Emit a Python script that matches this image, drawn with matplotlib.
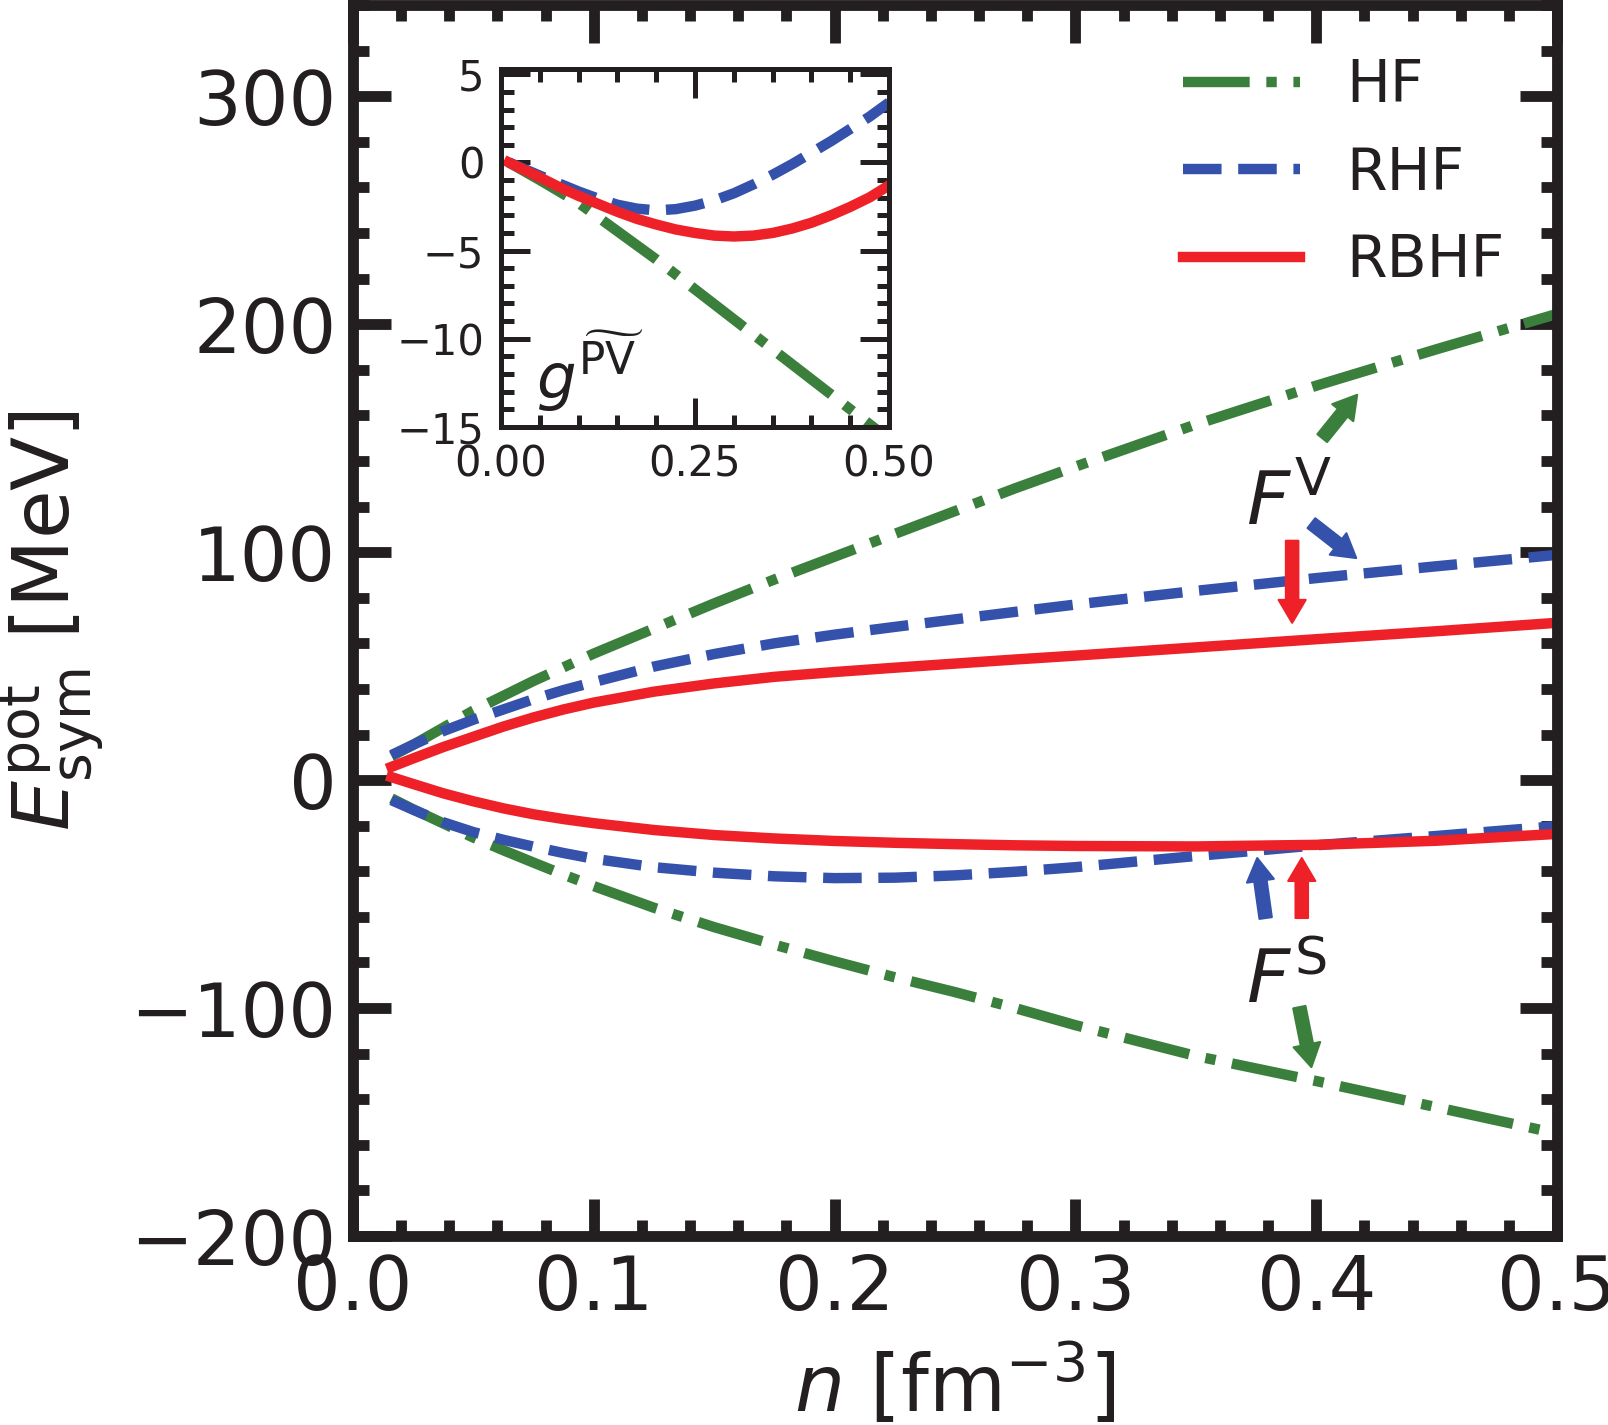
import matplotlib
matplotlib.use("Agg")
import matplotlib.pyplot as plt
from matplotlib.ticker import MultipleLocator

# main panel: potential symmetry energy vs density, vector (upper) and scalar (lower) parts
n = [0.016, 0.025, 0.0375, 0.05, 0.0625, 0.075, 0.0875, 0.10, 0.125, 0.15, 0.175,
     0.20, 0.225, 0.25, 0.275, 0.30, 0.35, 0.40, 0.45, 0.50]
hf_v = [10.5, 15.5, 23, 30.5, 37, 43.5, 49.5, 55.5, 66.5, 77.5, 88,
        98, 108, 118, 128, 137.5, 156, 173, 189, 204.5]
hf_s = [-8, -12.8, -19, -25.2, -30.8, -36.2, -41.5, -46.5, -56, -64.5, -72.2,
        -79.5, -86.5, -93, -100, -107.5, -121, -132, -143.5, -155]
rhf_v = [11, 15.5, 21.5, 26.5, 31, 35.5, 39.5, 43, 49.8, 55.3, 60,
         63.8, 67.2, 70.5, 73.8, 77, 83, 88.6, 93.8, 98.8]
rhf_s = [-8.8, -13, -18.5, -22.8, -26.2, -29.2, -32, -34.5, -38.2, -40.6, -42.2,
         -43, -42.8, -41.8, -40.2, -38.2, -33.3, -28.6, -24.5, -20.2]
rbhf_v = [5.8, 9.5, 14.5, 19, 23.5, 27.5, 31, 34, 38.8, 42.4, 45.3,
          47.4, 49.3, 51.1, 52.9, 54.6, 58.2, 61.8, 65.3, 69]
rbhf_s = [1.3, -1.7, -5.8, -9.3, -12.4, -15.0, -17.1, -18.9, -21.9, -24.1, -25.6,
          -26.7, -27.5, -28.1, -28.6, -28.9, -29.1, -28.4, -26.6, -23.6]

# inset: g^PV contribution
n_in = [0.01, 0.05, 0.075, 0.10, 0.125, 0.15, 0.175, 0.20, 0.225, 0.25, 0.275,
        0.30, 0.325, 0.35, 0.375, 0.40, 0.425, 0.45, 0.475, 0.50]
rhf_pv = [0, -0.75, -1.2, -1.65, -2.05, -2.4, -2.62, -2.72, -2.65, -2.45, -2.15,
          -1.75, -1.25, -0.7, -0.1, 0.55, 1.2, 1.9, 2.6, 3.4]
rbhf_pv = [0, -0.85, -1.4, -1.9, -2.35, -2.8, -3.2, -3.52, -3.8, -4.0, -4.15,
           -4.2, -4.15, -4.0, -3.75, -3.42, -3.0, -2.52, -1.98, -1.3]
n_in_hf = [0.01, 0.05, 0.10, 0.15, 0.20, 0.25, 0.30, 0.35, 0.40, 0.45, 0.50]
hf_pv = [0, -1.0, -2.3, -3.9, -5.5, -7.2, -8.9, -10.6, -12.3, -14.0, -15.7]

GREEN = "#3a7f3c"
BLUE = "#3451ab"
RED = "#ed2127"
INK = "#231f20"

plt.rcParams.update({
    "font.family": "DejaVu Sans",
    "mathtext.fontset": "dejavusans",
    "text.color": INK,
    "axes.edgecolor": INK,
    "axes.labelcolor": INK,
    "xtick.color": INK,
    "ytick.color": INK,
})

fig = plt.figure(figsize=(5.36, 4.75), dpi=300)
ax = fig.add_axes([0.2195, 0.1326, 0.7488, 0.8639])

lw = 2.5
ax.plot(n, hf_v, color=GREEN, ls="-.", lw=lw, label="HF")
ax.plot(n, hf_s, color=GREEN, ls="-.", lw=lw)
ax.plot(n, rhf_v, color=BLUE, ls="--", lw=lw, label="RHF")
ax.plot(n, rhf_s, color=BLUE, ls="--", lw=lw)
ax.plot(n, rbhf_v, color=RED, ls="-", lw=lw, label="RBHF")
ax.plot(n, rbhf_s, color=RED, ls="-", lw=lw)

ax.set_xlim(0, 0.5)
ax.set_ylim(-200, 340)
ax.xaxis.set_major_locator(MultipleLocator(0.1))
ax.xaxis.set_minor_locator(MultipleLocator(0.02))
ax.yaxis.set_major_locator(MultipleLocator(100))
ax.yaxis.set_minor_locator(MultipleLocator(20))
ax.tick_params(which="both", direction="in", top=True, right=True, width=2.6,
               labelsize=18, pad=4)
ax.tick_params(which="major", length=9)
ax.tick_params(which="minor", length=3.8)
for s in ax.spines.values():
    s.set_linewidth(2.6)

ax.set_xlabel(r"$n$ [fm$^{-3}$]", fontsize=19, labelpad=4)
ax.set_ylabel(r"$E_{\rm sym}^{\rm pot}$ [MeV]", fontsize=19, labelpad=5.5)
ax.legend(frameon=False, fontsize=14, loc="upper right", labelspacing=0.52)

ax.text(0.371, 111.8, r"$F^{\rm V}$", fontsize=18, va="baseline")
ax.text(0.371, -97.8, r"$F^{\rm S}$", fontsize=18, va="baseline")

arrow = "simple,head_length=0.55,head_width=0.65,tail_width=0.3"
arrows = [
    (GREEN, (0.4025, 150), (0.417, 169)),
    (BLUE, (0.398, 112.7), (0.4166, 97.4)),
    (RED, (0.390, 105), (0.390, 69)),
    (BLUE, (0.379, -60.5), (0.3755, -34.2)),
    (RED, (0.394, -60.5), (0.394, -34.2)),
    (GREEN, (0.393, -99.6), (0.398, -125.9)),
]
for c, start, tip in arrows:
    ax.annotate("", xy=tip, xytext=start,
                arrowprops=dict(arrowstyle=arrow, mutation_scale=10, color=c,
                                lw=0.5, shrinkA=0, shrinkB=0))

# inset
ins = fig.add_axes([0.3116, 0.7004, 0.2413, 0.2512])
ins.plot(n_in_hf, hf_pv, color=GREEN, ls="-.", lw=lw)
ins.plot(n_in, rhf_pv, color=BLUE, ls="--", lw=lw)
ins.plot(n_in, rbhf_pv, color=RED, ls="-", lw=lw)
ins.set_xlim(0, 0.5)
ins.set_ylim(-15, 5.3)
ins.xaxis.set_major_locator(MultipleLocator(0.25))
ins.xaxis.set_minor_locator(MultipleLocator(0.05))
ins.yaxis.set_major_locator(MultipleLocator(5))
ins.yaxis.set_minor_locator(MultipleLocator(1))
ins.tick_params(which="both", direction="in", top=True, right=True, width=1.2,
                labelsize=10, pad=4)
ins.tick_params(which="major", length=7)
ins.tick_params(which="minor", length=3)
for s in ins.spines.values():
    s.set_linewidth(1.2)
ins.text(0.045, -13.4, r"$g^{\widetilde{\rm PV}}$", fontsize=15, va="baseline")

fig.savefig("out.png", dpi=300)
